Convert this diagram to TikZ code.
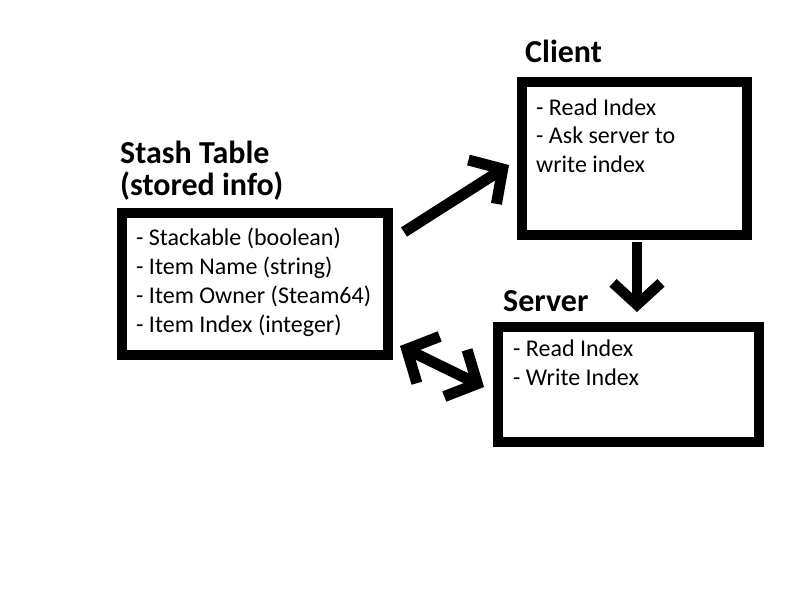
\documentclass[tikz,border=0pt]{standalone}
\usepackage{fontspec}
\setmainfont{Carlito}
\usetikzlibrary{arrows.meta}
\begin{document}
\begin{tikzpicture}[x=1pt,y=-1pt,
  boxnode/.style={draw=black,line width=10pt,rectangle,inner sep=0pt,outer sep=0pt,fill=white},
  bodytext/.style={align=left,inner sep=0pt,anchor=base west,font=\fontsize{24}{29}\selectfont},
  titletext/.style={align=left,inner sep=0pt,anchor=base west,font=\fontsize{32}{32.5}\selectfont\bfseries},
  diagtip/.style={Straight Barb[length=24pt,width=52pt]},
  bigarrow/.style={line width=10.5pt,-{Straight Barb[length=22pt,width=48pt]}},
  diagarrow/.style={line width=11pt,-{Straight Barb[length=24pt,width=52pt]}},
  diagdouble/.style={line width=11pt,{Straight Barb[length=24pt,width=52pt]}-{Straight Barb[length=24pt,width=52pt]}}]
\useasboundingbox[fill=white] (0,0) rectangle (800,600);
% boxes
\node[boxnode,minimum width=266pt,minimum height=142pt] (stash) at (255,284) {};
\node[boxnode,minimum width=225pt,minimum height=153pt] (client) at (634.5,158.5) {};
\node[boxnode,minimum width=261pt,minimum height=115pt] (server) at (628.5,384.5) {};
% titles (anchor base = last line)
\node[titletext] (stashtitle) at (120,195.5) {Stash Table\\(stored info)};
\node[titletext] (clienttitle) at (525,62) {Client};
\node[titletext] (servertitle) at (503,311) {Server};
% texts (anchor base = last line)
\node[bodytext] (stashtext) at (136,332) {- Stackable (boolean)\\- Item Name (string)\\- Item Owner (Steam64)\\- Item Index (integer)};
\node[bodytext,font=\fontsize{24}{28.5}\selectfont] (clienttext) at (536,172) {- Read Index\\- Ask server to\\write index};
\node[bodytext] (servertext) at (513,385) {- Read Index\\- Write Index};
% arrows
\coordinate (a1s) at (404,232);
\coordinate (a1e) at (509,165);
\coordinate (a2s) at (400,346);
\coordinate (a2e) at (484,387);
\coordinate (a3s) at (637,242);
\coordinate (a3e) at (637,312);
\draw[diagarrow] (a1s) -- (a1e);
\draw[diagdouble] (a2s) -- (a2e);
\draw[bigarrow] (a3s) -- (a3e);
\end{tikzpicture}
\end{document}
